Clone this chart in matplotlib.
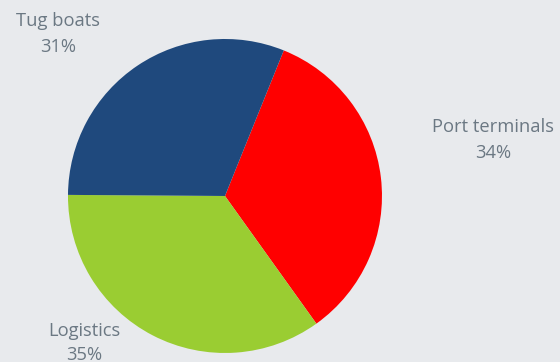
import matplotlib
matplotlib.use("Agg")
import matplotlib.pyplot as plt

# data
labels = ["Port terminals", "Logistics", "Tug boats"]
shares = [34, 35, 31]
colors = ["#FF0000", "#9ACD32", "#1F497D"]

bg = "#E8EAED"
text_color = "#6B7883"

fig = plt.figure(figsize=(5.6, 3.62), dpi=100)
fig.patch.set_facecolor(bg)

ax = fig.add_axes([0.1214, 0.0249, 0.5607, 0.8674])
ax.set_facecolor(bg)
ax.pie(shares, colors=colors, startangle=68, counterclock=False,
       radius=1.0, wedgeprops=dict(linewidth=0))
ax.set_xlim(-1, 1)
ax.set_ylim(-1, 1)
ax.set_aspect("equal")
ax.axis("off")

# label positions in figure pixels (x, y from top)
label_pos = {"Tug boats": (58, 34), "Port terminals": (493, 140), "Logistics": (84, 343)}
for name, val in zip(labels, shares):
    px, py = label_pos[name]
    fig.text(px / 560, 1 - py / 362, f"{name}\n{val}%", ha="center", va="center",
             color=text_color, fontsize=13.2, family="Open Sans", linespacing=1.5)

fig.savefig("out.png", dpi=100, facecolor=bg)
